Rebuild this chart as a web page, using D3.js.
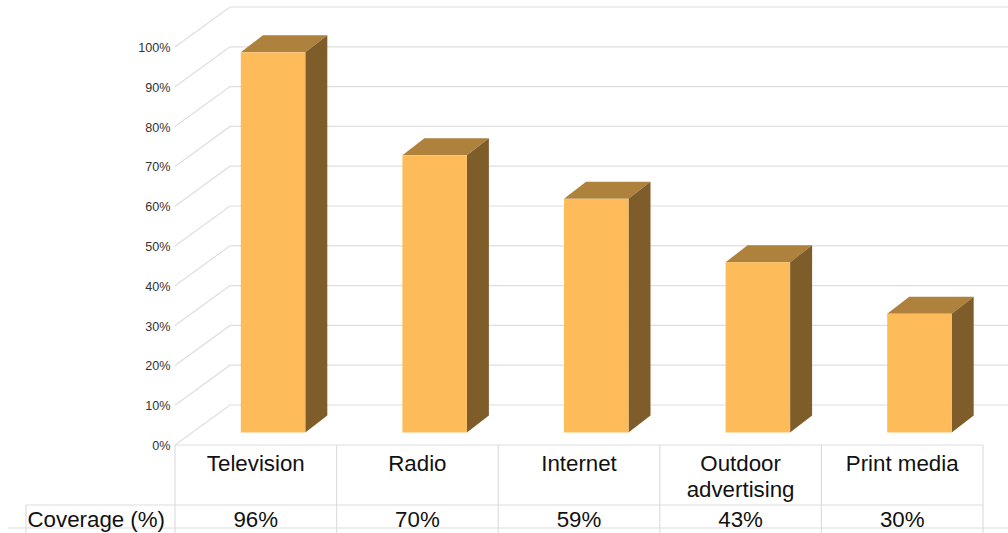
<!DOCTYPE html>
<html>
<head>
<meta charset="utf-8">
<script src="https://cdn.jsdelivr.net/npm/d3@7"></script>
<style>
html,body{margin:0;padding:0;background:#fff;overflow:hidden}
svg{display:block}
text{font-family:"Liberation Sans",Arial,sans-serif}
</style>
</head>
<body>
<svg id="chart" width="1008" height="533"></svg>
<script>
const categories = [["Television"], ["Radio"], ["Internet"], ["Outdoor", "advertising"], ["Print media"]];
const coverage = [96, 70, 59, 43, 30];
const ticks = [0, 10, 20, 30, 40, 50, 60, 70, 80, 90, 100];
const rowTitle = "Coverage (%)";

const width = 1008, height = 533;
const gridColor = "#dedede";
const svg = d3.select("#chart");

// Axis scale on the front plane of the 3D box; the wall is offset by the depth.
const y = d3.scaleLinear().domain([0, 100]).range([445, 47]);
const wallDx = 55, wallDy = -40;

// Bars stand on a floor inside the box, with their own projected origin.
const barY = d3.scaleLinear().domain([0, 100]).range([432.5, 36.5]);
const x = d3.scaleBand().domain(d3.range(categories.length)).range([175, 983]);
const barOffset = 65.8, barWidth = 64.5, barDx = 22, barDy = -17;

// Gridlines: a diagonal on the side wall and a horizontal along the back wall.
const grid = svg.append("g").attr("fill", "none").attr("stroke", gridColor).attr("stroke-width", 1.2);
grid.selectAll("path").data(ticks).join("path")
  .attr("d", t => d3.line()([
    [175, y(t)],
    [175 + wallDx, y(t) + wallDy],
    [width, y(t) + wallDy]
  ]));

// Tick labels
svg.append("g").selectAll("text").data(ticks).join("text")
  .attr("x", 170.5)
  .attr("y", t => y(t) + 0.5)
  .attr("dy", "0.35em")
  .attr("text-anchor", "end")
  .attr("font-size", 12.6)
  .attr("fill", "#333")
  .text(t => t + "%");

// Bars: top, side and front faces
const bars = svg.append("g").selectAll("g").data(coverage).join("g");
const bx = (d, i) => x(i) + barOffset;
bars.append("path").attr("fill", "#AE813C")
  .attr("d", (d, i) => {
    const l = bx(d, i), r = l + barWidth, t = barY(d);
    return d3.line()([[l, t], [l + barDx, t + barDy], [r + barDx, t + barDy], [r, t]]) + "Z";
  });
bars.append("path").attr("fill", "#7F5D2B")
  .attr("d", (d, i) => {
    const r = bx(d, i) + barWidth, t = barY(d), b = barY(0);
    return d3.line()([[r, t], [r + barDx, t + barDy], [r + barDx, b + barDy], [r, b]]) + "Z";
  });
bars.append("rect").attr("fill", "#FDBB5A")
  .attr("x", bx)
  .attr("y", d => barY(d))
  .attr("width", barWidth)
  .attr("height", d => barY(0) - barY(d));

// Data table under the plot
const rowTop = 445, rowMid = 505, rowLine = 528;
const table = svg.append("g").attr("stroke", gridColor).attr("stroke-width", 1.2);
const edges = d3.range(categories.length + 1).map(i => i === categories.length ? x.range()[1] : x(i));
table.selectAll("line.col").data(edges).join("line").attr("class", "col")
  .attr("x1", d => d).attr("x2", d => d)
  .attr("y1", rowTop).attr("y2", height);
table.append("line").attr("x1", 175).attr("x2", 983).attr("y1", rowTop).attr("y2", rowTop);
table.append("line").attr("x1", 26).attr("x2", 983).attr("y1", rowMid).attr("y2", rowMid);
table.append("line").attr("x1", 8).attr("x2", width).attr("y1", rowLine).attr("y2", rowLine);
table.append("line").attr("x1", 26).attr("x2", 26).attr("y1", rowMid).attr("y2", height);

const center = i => x(i) + x.bandwidth() / 2;
const cat = svg.append("g").attr("font-size", 22.3).attr("fill", "#111").attr("text-anchor", "middle");
categories.forEach((lines, i) => {
  lines.forEach((s, j) => {
    cat.append("text").attr("x", center(i)).attr("y", 471 + j * 26).text(s);
  });
});
cat.selectAll("text.val").data(coverage).join("text").attr("class", "val")
  .attr("x", (d, i) => center(i)).attr("y", 527).text(d => d + "%");
cat.append("text").attr("x", 27.5).attr("y", 527).attr("text-anchor", "start").text(rowTitle);
</script>
</body>
</html>
